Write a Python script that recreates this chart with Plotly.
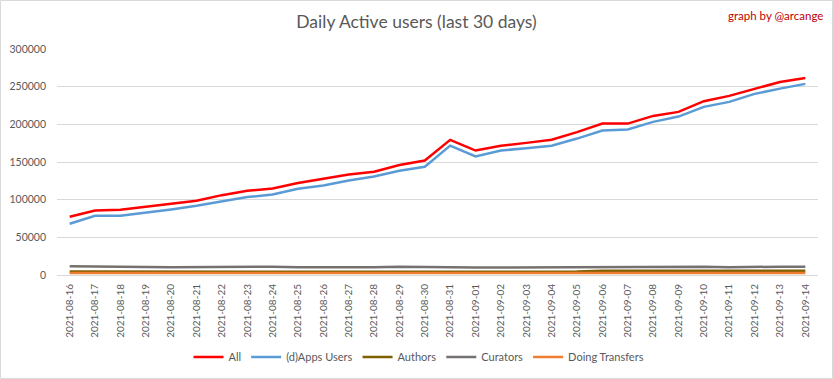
import plotly.graph_objects as go

dates = ["2021-08-16", "2021-08-17", "2021-08-18", "2021-08-19", "2021-08-20", "2021-08-21",
         "2021-08-22", "2021-08-23", "2021-08-24", "2021-08-25", "2021-08-26", "2021-08-27",
         "2021-08-28", "2021-08-29", "2021-08-30", "2021-08-31", "2021-09-01", "2021-09-02",
         "2021-09-03", "2021-09-04", "2021-09-05", "2021-09-06", "2021-09-07", "2021-09-08",
         "2021-09-09", "2021-09-10", "2021-09-11", "2021-09-12", "2021-09-13", "2021-09-14"]

all_users = [77300, 85600, 86600, 90500, 94500, 98500, 106000, 111800, 114800, 122000,
             127700, 133400, 137000, 145900, 152000, 179400, 165200, 171500, 175400, 179600,
             189600, 201000, 201000, 211200, 216500, 230700, 237800, 247400, 256300, 261600]

apps_users = [68000, 78600, 78600, 82500, 87000, 91900, 97600, 103400, 106900, 114400,
              118800, 125400, 130700, 138300, 143600, 171800, 157300, 165200, 168400, 171600,
              181100, 191700, 193100, 203300, 210300, 223200, 229800, 240400, 247400, 253700]

authors = [4500, 4600, 4500, 4300, 4200, 4300, 4500, 4600, 4400, 4200,
           4200, 4300, 4300, 4400, 4500, 4800, 4600, 4400, 4300, 4300,
           4500, 5500, 5600, 5500, 5400, 5500, 5300, 5400, 5600, 5600]

curators = [11500, 11500, 11400, 10500, 10300, 10400, 11200, 11300, 11100, 10300,
            10200, 10200, 10300, 11000, 11000, 11000, 10100, 10000, 10100, 10200,
            11000, 11100, 11100, 11100, 11000, 11000, 10200, 11000, 11100, 11100]

transfers = [2800, 2800, 2700, 2500, 2600, 2700, 2800, 2600, 2500, 2600,
             2600, 2700, 2600, 2700, 2800, 3000, 2800, 2700, 2500, 2400,
             2600, 2700, 2700, 2700, 2700, 2800, 2700, 2700, 2800, 2800]

series = [
    ("All", all_users, "#FF0000"),
    ("(d)Apps Users", apps_users, "#5B9BD5"),
    ("Authors", authors, "#7F6000"),
    ("Curators", curators, "#767171"),
    ("Doing Transfers", transfers, "#ED7D31"),
]

FONT = "Lato, 'Liberation Sans', sans-serif"

fig = go.Figure()
for name, vals, color in series:
    fig.add_trace(go.Scatter(x=dates, y=vals, name=name, mode="lines",
                             line=dict(color=color, width=2.5)))

L, R, T, B = 57, 15, 49, 104
W, H = 833, 379
pw, ph = W - L - R, H - T - B

fig.update_layout(
    width=W, height=H,
    margin=dict(l=L, r=R, t=T, b=B, pad=0, autoexpand=False),
    paper_bgcolor="white", plot_bgcolor="white",
    font=dict(family=FONT, color="#595959", size=11),
    title=dict(text="Daily Active users (last 30 days)", x=0.5, xanchor="center",
               y=1 - 22 / H, yanchor="middle", automargin=False,
               font=dict(size=17.5, color="#595959", family=FONT)),
    xaxis=dict(type="category", tickangle=-90, showgrid=False, showline=True,
               linecolor="#D9D9D9", linewidth=1, ticks="", tickfont=dict(size=10),
               ticklabelstandoff=4,
               range=[-0.5, len(dates) - 0.5], automargin=False),
    yaxis=dict(range=[0, 300000], dtick=50000, showgrid=True, gridcolor="#D9D9D9",
               gridwidth=1, zeroline=False, showline=False, ticks="", automargin=False,
               tickformat="d", tickfont=dict(size=10.5), ticklabelstandoff=10),
    legend=dict(orientation="h", x=(419 - L) / pw, xanchor="center", y=-(357 - T - ph) / ph,
                yanchor="middle", font=dict(size=11, color="#595959"),
                itemwidth=30, tracegroupgap=0),
    showlegend=True,
)

fig.add_annotation(text="graph by @arcange", xref="paper", yref="paper",
                   x=(825 - L) / pw, y=1 + (T - 15) / ph, xanchor="right", yanchor="middle",
                   showarrow=False, font=dict(size=11.5, color="#C00000", family=FONT))

fig.add_shape(type="rect", xref="paper", yref="paper",
              x0=-(L - 0.5) / pw, x1=1 + (R - 0.5) / pw,
              y0=-(B - 0.5) / ph, y1=1 + (T - 0.5) / ph,
              line=dict(color="#D9D9D9", width=1), layer="below")

fig.write_html("out.html", config={"displayModeBar": False},
               post_script="document.body.style.margin='0px';document.body.style.overflow='hidden';")
